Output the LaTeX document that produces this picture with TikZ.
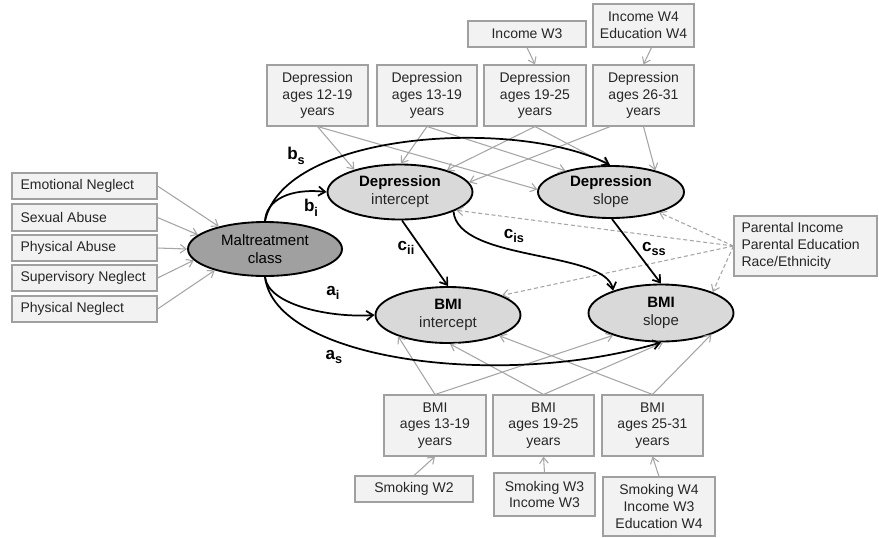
\documentclass[tikz,border=0pt]{standalone}
\usepackage{fontspec}
\setmainfont{Liberation Sans}
\usetikzlibrary{arrows.meta,shapes.geometric}
\definecolor{boxfill}{HTML}{F2F2F2}
\definecolor{boxline}{HTML}{A0A0A0}
\definecolor{ellfill}{HTML}{D9D9D9}
\definecolor{malfill}{HTML}{A0A0A0}
\definecolor{txt}{HTML}{262626}
\definecolor{conn}{HTML}{A6A6A6}
\newcommand\mysub[1]{\raisebox{-0.28em}{\fontsize{9.5}{10}\selectfont\bfseries #1}}
\begin{document}
\begin{tikzpicture}[x=0.75pt,y=-0.75pt,
  box/.style={draw=boxline, fill=boxfill, line width=0.8pt, text=txt,
    font=\fontsize{10.5}{12.6}\selectfont, align=center, inner sep=0pt},
  lbox/.style={box, align=flush left, text width=128*0.75pt},
  sz/.style 2 args={minimum width=#1*0.75pt, minimum height=#2*0.75pt},
  ell/.style={ellipse, draw=black, line width=1.4pt, fill=ellfill, inner sep=0pt,
    align=center, text=black, font=\fontsize{11.25}{13.5}\selectfont},
  g/.style={draw=conn, line width=0.8pt, -{Straight Barb[length=4.5pt,width=6.5pt]}},
  dsh/.style={g, dash pattern=on 3pt off 2pt},
  k/.style={draw=black, line width=1.3pt, -{Straight Barb[length=5pt,width=7pt]}},
  lab/.style={font=\fontsize{12.8}{14}\selectfont\bfseries, text=black, inner sep=0pt}
]
\useasboundingbox[fill=white] (0,0) rectangle (879,537);

% left boxes
\node[lbox, sz={145}{26}] (en) at (84.5,186) {Emotional Neglect};
\node[lbox, sz={145}{27}] (sa) at (84.5,217.5) {Sexual Abuse};
\node[lbox, sz={145}{26}] (pa) at (84.5,248) {Physical Abuse};
\node[lbox, sz={145}{26}] (sn) at (84.5,278) {Supervisory Neglect};
\node[lbox, sz={145}{26}] (pn) at (84.5,309) {Physical Neglect};

% ellipses
\node[ell, fill=malfill, sz={154}{54}] (mal) at (265,249) {Maltreatment\\class};
\node[ell, sz={145}{55}] (di) at (400,192) {\textbf{Depression}\\{\color{txt}intercept}};
\node[ell, sz={146}{52}] (ds) at (611,192) {\textbf{Depression}\\{\color{txt}slope}};
\node[ell, sz={145}{56}] (bi) at (448,315) {\textbf{BMI}\\{\color{txt}intercept}};
\node[ell, sz={145}{57}] (bs) at (661,313) {\textbf{BMI}\\{\color{txt}slope}};

% top boxes
\node[box, sz={101}{61}] (d1) at (317.5,95.5) {Depression\\ages 12-19\\years};
\node[box, sz={100}{61}] (d2) at (427,95.5) {Depression\\ages 13-19\\years};
\node[box, sz={102}{61}] (d3) at (535,95.5) {Depression\\ages 19-25\\years};
\node[box, sz={101}{61}] (d4) at (643.5,95.5) {Depression\\ages 26-31\\years};
\node[box, sz={118}{26}] (inc3) at (527,34) {Income W3};
\node[box, sz={101}{43}] (inc4) at (643.5,25.5) {Income W4\\Education W4};

% parental
\node[lbox, sz={143}{60}] (par) at (805.5,246) {Parental Income\\Parental Education\\Race/Ethnicity};

% bottom boxes
\node[box, sz={102}{61}] (b1) at (435,425.5) {BMI\\ages 13-19\\years};
\node[box, sz={101}{61}] (b2) at (543.5,425.5) {BMI\\ages 19-25\\years};
\node[box, sz={101}{61}] (b3) at (652.5,425.5) {BMI\\ages 25-31\\years};
\node[box, sz={118}{26}] (sm2) at (414,489) {Smoking W2};
\node[box, sz={101}{43}] (sm3) at (544.5,494.5) {Smoking W3\\Income W3};
\node[box, sz={112}{59}] (sm4) at (659,506.5) {Smoking W4\\Income W3\\Education W4};

% indicators of maltreatment
\draw[g] (en.east) -- (mal.154.7);
\draw[g] (sa.east) -- (mal.168.7);
\draw[g] (pa.east) -- (mal.180);
\draw[g] (sn.east) -- (mal.189.5);
\draw[g] (pn.east) -- (mal.203.6);

% covariates
\draw[g] (inc3.south) -- (d3.north);
\draw[g] ([xshift=6pt]inc4.south) -- (d4.north);
\draw[g] (sm2.north) -- (b1.south);
\draw[g] (sm3.north) -- (b2.south);
\draw[g] (sm4.north) -- (b3.south);

% depression indicators
\draw[g] (d1.south) -- (di.154);
\draw[g] (d1.south) -- (ds.178);
\draw[g] (d2.south) -- (di.88);
\draw[g] (d2.south) -- (ds.155.6);
\draw[g] (d3.south) -- (di.25);
\draw[g] (d3.south) -- (ds.96);
\draw[g] ([xshift=-25pt]d4.south) -- (di.8);
\draw[g] (d4.south) -- (ds.26);

% BMI indicators
\draw[g] (b1.north) -- (bi.203.7);
\draw[g] (b1.north) -- (bs.205);
\draw[g] (b2.north) -- (bi.274);
\draw[g] (b2.north) -- (bs.274);
\draw[g] (b3.north) -- (bi.338);
\draw[g] (b3.north) -- (bs.337);

% parental covariates
\draw[dsh] (par.west) -- (di.342);
\draw[dsh] (par.west) -- (ds.337.6);
\draw[dsh] (par.west) -- (bi.20);
\draw[dsh] (par.west) -- (bs.22);

% structural paths
\draw[k] (mal.north) .. controls (266,200) and (290,188) .. (di.west);
\draw[k] (mal.north) .. controls (285,130) and (520,118) .. (ds.92);
\draw[k] (mal.south) .. controls (268,305) and (330,318) .. (bi.west);
\draw[k] (mal.south) .. controls (275,360) and (500,390) .. (bs.south);
\draw[k] (di.-86) -- (bi.north);
\draw[k] (di.-20) .. controls (458,262) and (605,250) .. (bs.155);
\draw[k] (ds.-88) -- (bs.north);

% labels
\node[lab] (lbs) at (296,156) {b\mysub{s}};
\node[lab] (lbi) at (311,208) {b\mysub{i}};
\node[lab] (lai) at (333,293) {a\mysub{i}};
\node[lab] (las) at (334,357) {a\mysub{s}};
\node[lab] (lcii) at (406,248) {c\mysub{ii}};
\node[lab] (lcis) at (514,236) {c\mysub{is}};
\node[lab] (lcss) at (654,249) {c\mysub{ss}};
\end{tikzpicture}
\end{document}
